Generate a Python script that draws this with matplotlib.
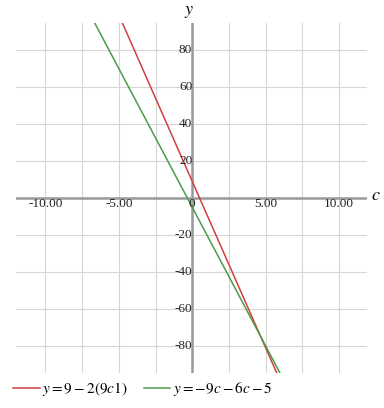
import numpy as np
import matplotlib
matplotlib.use("Agg")
import matplotlib.pyplot as plt
from matplotlib.transforms import offset_copy

plt.rcParams['mathtext.fontset'] = 'stix'

# Data
series_labels = [r"$y=9-2(9c1)$", r"$y=-9c-6c-5$"]
slopes = [-18.0, -15.0]
intercepts = [9.0, -5.0]
colors = ["#d0403f", "#4f9a4a"]
x_ticks = [-10, -5, 5, 10]
x_tick_labels = ["-10.00", "-5.00", "5.00", "10.00"]
y_ticks = [-80, -60, -40, -20, 20, 40, 60, 80]
x_grid = [-10, -7.5, -5, -2.5, 2.5, 5, 7.5, 10]
xlim = (-12.0, 11.9)
ylim = (-94.6, 94.6)

W, H = 384, 408
fig = plt.figure(figsize=(W / 100, H / 100), dpi=100)
left, right, top, bottom = 16, 367, 23, 373
ax = fig.add_axes([left / W, 1 - bottom / H, (right - left) / W, (bottom - top) / H])
ax.set_xlim(*xlim)
ax.set_ylim(*ylim)
for s in ax.spines.values():
    s.set_visible(False)
ax.set_xticks([])
ax.set_yticks([])

grid_c = "#d6d6d6"
for gx in x_grid:
    ax.axvline(gx, color=grid_c, lw=0.8, zorder=0)
for gy in y_ticks:
    ax.axhline(gy, color=grid_c, lw=0.8, zorder=0)
ax.axhline(0, color="#999999", lw=1.8, zorder=1)
ax.axvline(0, color="#999999", lw=1.8, zorder=1)

xs = np.linspace(xlim[0], xlim[1], 400)
handles = []
for m, b, c, lab in zip(slopes, intercepts, colors, series_labels):
    h, = ax.plot(xs, m * xs + b, color=c, lw=1.1, label=lab, zorder=3, clip_on=True)
    handles.append(h)

tick_font = dict(family="Liberation Serif", fontsize=9.5, color="#222222")
tr_x = offset_copy(ax.transData, fig=fig, x=0, y=-6, units='dots')
for v, lab in zip(x_ticks, x_tick_labels):
    ax.text(v, 0, lab, transform=tr_x, ha='center', va='center', **tick_font, zorder=4)
ax.text(0, 0, "0", transform=tr_x, ha='center', va='center', **tick_font, zorder=4)
tr_y = offset_copy(ax.transData, fig=fig, x=0, y=0, units='dots')
for v in y_ticks:
    ax.text(0, v, str(v), transform=tr_y, ha='right', va='center', **tick_font, zorder=4)

fig.text(189 / W, 1 - 11 / H, r"$y$", fontsize=13, ha='center', va='center')
fig.text(376 / W, 1 - 195 / H, r"$c$", fontsize=13, ha='center', va='center')

fig.legend(handles=handles, loc='center left', bbox_to_anchor=(13 / W, 1 - 389 / H),
           ncol=2, frameon=False, fontsize=11, handlelength=1.75, handletextpad=0.15,
           columnspacing=1.05, borderpad=0, borderaxespad=0)

fig.savefig("out.png", dpi=100)
